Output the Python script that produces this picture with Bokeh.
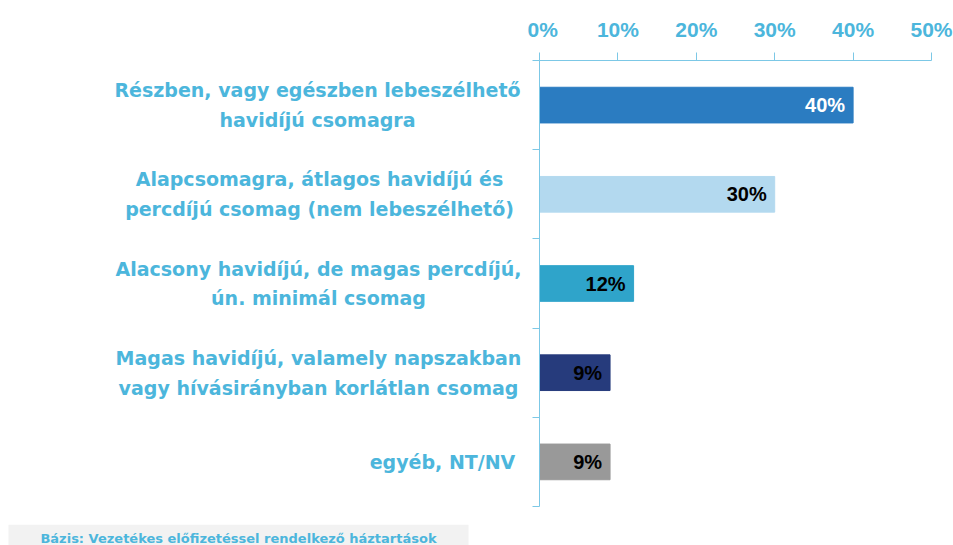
from bokeh.plotting import figure
from bokeh.layouts import row, column
from bokeh.models import Range1d, FixedTicker, ColumnDataSource
from bokeh.embed import file_html
from bokeh.resources import INLINE
from bokeh.core.properties import value

categories = [
    "Részben, vagy egészben lebeszélhető\nhavidíjú csomagra",
    "Alapcsomagra, átlagos havidíjú és\npercdíjú csomag (nem lebeszélhető)",
    "Alacsony havidíjú, de magas percdíjú,\nún. minimál csomag",
    "Magas havidíjú, valamely napszakban\nvagy hívásirányban korlátlan csomag",
    "egyéb, NT/NV",
]
values = [40, 30, 12, 9, 9]
value_labels = ["40%", "30%", "12%", "9%", "9%"]
bar_colors = ["#2b7cc1", "#b3d9ef", "#2fa4ca", "#263b7c", "#999999"]
label_colors = ["#ffffff", "#000000", "#000000", "#000000", "#000000"]
x_ticks = [0, 10, 20, 30, 40, 50]
x_tick_labels = ["0%", "10%", "20%", "30%", "40%", "50%"]
footnote = "Bázis: Vezetékes előfizetéssel rendelkező háztartások"

BLUE = "#4cb6dc"
AXIS = "#7cc8e6"
FONT = "Liberation Sans"
WIDE = "DejaVu Sans"

W = 953
MAIN_H = 524
FOOT_H = 21
LEFT_W = 527
TOP, BOTTOM = 60, 18
n = len(categories)
ypos = [i + 0.5 for i in range(n)]
yrange = Range1d(n, 0)

# ---- left panel: category labels ----
lp = figure(width=LEFT_W, height=MAIN_H, output_backend="svg", toolbar_location=None,
            x_range=Range1d(0, LEFT_W), y_range=yrange,
            min_border_left=0, min_border_right=0,
            min_border_top=TOP, min_border_bottom=BOTTOM,
            x_axis_location=None, y_axis_location=None)
lp.outline_line_color = None
lp.xgrid.grid_line_color = None
lp.ygrid.grid_line_color = None

cat_x = [317, 319, 318, 318, 442]
lp.text(x=cat_x, y=ypos, text=categories, text_align="center",
        text_baseline="middle", text_font=value(WIDE), text_font_style="bold",
        text_font_size="19px", text_color=BLUE, text_line_height=1.35)

# ---- main chart ----
p = figure(width=W - LEFT_W, height=MAIN_H, output_backend="svg", toolbar_location=None,
           x_range=Range1d(0, 50), y_range=yrange,
           x_axis_location="above", min_border_left=12, min_border_right=22,
           min_border_top=TOP, min_border_bottom=BOTTOM)
p.outline_line_color = None
p.xgrid.grid_line_color = None
p.ygrid.grid_line_color = None

src = ColumnDataSource(dict(y=ypos, right=values, color=bar_colors,
                            lab=value_labels, lcol=label_colors))
p.hbar(y="y", left=0, right="right", height=0.4, color="color", source=src)
p.text(x="right", y="y", text="lab", text_color="lcol", source=src,
       text_align="right", text_baseline="middle", x_offset=-8,
       text_font=value(FONT), text_font_style="bold", text_font_size="20px")

xa = p.xaxis[0]
xa.ticker = FixedTicker(ticks=x_ticks)
xa.major_label_overrides = {t: l for t, l in zip(x_ticks, x_tick_labels)}
xa.major_label_text_font = FONT
xa.major_label_text_font_style = "bold"
xa.major_label_text_font_size = "21px"
xa.major_label_text_color = BLUE
xa.major_label_standoff = 12
xa.axis_line_color = AXIS
xa.major_tick_line_color = AXIS
xa.major_tick_out = 8
xa.major_tick_in = 0
xa.minor_tick_line_color = None

ya = p.yaxis[0]
ya.ticker = FixedTicker(ticks=list(range(n + 1)))
ya.major_label_text_font_size = "0px"
ya.major_label_standoff = 0
ya.axis_line_color = AXIS
ya.major_tick_line_color = AXIS
ya.major_tick_out = 7
ya.major_tick_in = 0
ya.minor_tick_line_color = None

# ---- footnote strip ----
fp = figure(width=W, height=FOOT_H, output_backend="svg", toolbar_location=None,
            x_range=Range1d(0, W), y_range=Range1d(0, FOOT_H), min_border=0,
            x_axis_location=None, y_axis_location=None)
fp.outline_line_color = None
fp.xgrid.grid_line_color = None
fp.ygrid.grid_line_color = None
fp.quad(left=8, right=468, bottom=0, top=FOOT_H, color="#f2f2f2", line_color=None)
fp.text(x=[238], y=[FOOT_H / 2 - 3], text=[footnote], text_align="center",
        text_baseline="middle", text_font=value(WIDE), text_font_style="bold",
        text_font_size="13px", text_color=BLUE)

layout = column(row(lp, p), fp)
open("out.html", "w").write(file_html(layout, INLINE))
